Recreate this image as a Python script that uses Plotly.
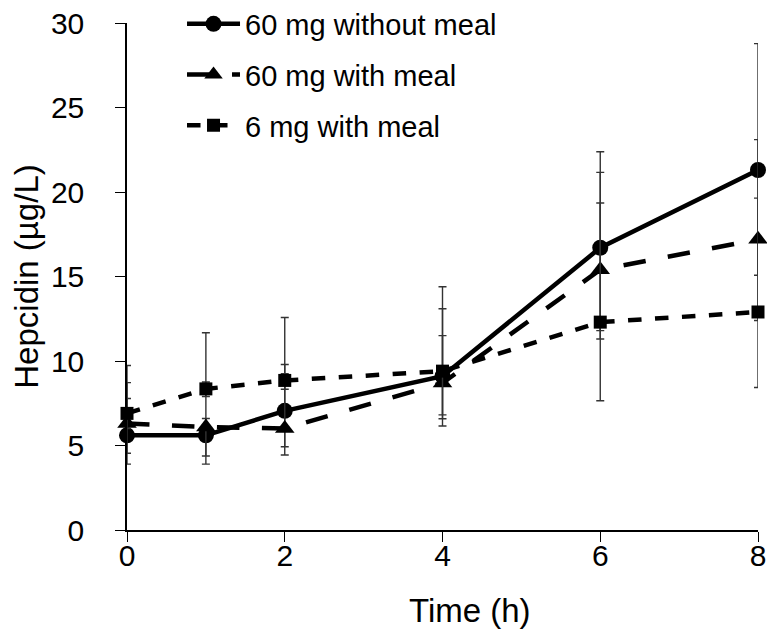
import plotly.graph_objects as go

# time points (h)
time_h = [0, 1, 2, 4, 6, 8]

# mean hepcidin (ug/L) per group
no_meal = [5.6, 5.6, 7.05, 9.1, 16.7, 21.3]
meal_60 = [6.3, 6.1, 6.0, 8.7, 15.4, 17.2]
meal_6 = [6.9, 8.35, 8.85, 9.4, 12.3, 12.9]

# error bar ends as read from the caps
no_meal_hi = [9.73, 11.67, 12.57, 14.39, 22.38, 28.78]
no_meal_lo = [4.54, 3.90, 4.44, 6.15, 11.30, 15.07]
meal_60_hi = [8.72, 6.6, 9.79, 13.09, 19.35, 23.10]
meal_60_lo = [3.90, 4.38, 4.93, 6.58, 7.65, 8.43]
meal_6_hi = [7.78, 8.76, 9.25, 11.50, 21.16, 19.64]
meal_6_lo = [6.0, 7.9, 8.33, 6.81, 11.8, 12.4]

series = [
    ("60 mg without meal", no_meal, no_meal_hi, no_meal_lo, "solid", "circle", 16),
    ("60 mg with meal", meal_60, meal_60_hi, meal_60_lo, "longdash", "triangle-up", 17),
    ("6 mg with meal", meal_6, meal_6_hi, meal_6_lo, "dash", "square", 13),
]

fig = go.Figure()
for name, y, hi, lo, dash, symbol, size in series:
    fig.add_trace(
        go.Scatter(
            x=time_h,
            y=y,
            name=name,
            legendgroup=name,
            mode="lines+markers",
            line=dict(color="black", width=4.5, dash=dash),
            marker=dict(color="black", symbol=symbol, size=size),
            error_y=dict(
                type="data",
                symmetric=False,
                array=[h - v for h, v in zip(hi, y)],
                arrayminus=[v - l for l, v in zip(lo, y)],
                color="#333333",
                thickness=1.4,
                width=4,
            ),
            cliponaxis=False,
        )
    )

font_family = "Liberation Sans, Arial, sans-serif"

fig.update_xaxes(
    range=[0, 8],
    tickvals=[0, 2, 4, 6, 8],
    ticks="outside",
    ticklen=10,
    tickcolor="black",
    showline=True,
    linecolor="black",
    linewidth=1.5,
    showgrid=False,
    zeroline=False,
    automargin=False,
    ticklabeloverflow="allow",
    ticklabelstandoff=-12,
    tickfont=dict(size=30, color="black"),
)
fig.update_yaxes(
    range=[0, 30],
    tickvals=[0, 5, 10, 15, 20, 25, 30],
    ticks="outside",
    ticklen=10,
    tickcolor="black",
    showline=True,
    linecolor="black",
    linewidth=1.5,
    showgrid=False,
    zeroline=False,
    automargin=False,
    ticklabeloverflow="allow",
    ticklabelstandoff=25,
    tickfont=dict(size=30, color="black"),
    title=dict(text="Hepcidin (µg/L)", font=dict(size=33, color="black"), standoff=16),
)

# x title sits a little right of centre in the original
fig.add_annotation(
    text="Time (h)",
    x=0.5436,
    y=-0.158,
    xref="paper",
    yref="paper",
    xanchor="center",
    yanchor="middle",
    showarrow=False,
    font=dict(size=33, color="black"),
)

# page body adds 8 px around the figure, so keep it inside the window
fig.update_layout(
    width=759,
    height=623,
    margin=dict(l=119, r=9, t=15, b=101, autoexpand=False),
    paper_bgcolor="white",
    plot_bgcolor="white",
    font=dict(family=font_family, color="black"),
    showlegend=True,
    legend=dict(
        x=0.0872,
        y=1.0483,
        xanchor="left",
        yanchor="top",
        font=dict(size=29, color="black"),
        bgcolor="rgba(0,0,0,0)",
        tracegroupgap=10,
        itemwidth=53,
    ),
)

fig.write_html("out.html")
